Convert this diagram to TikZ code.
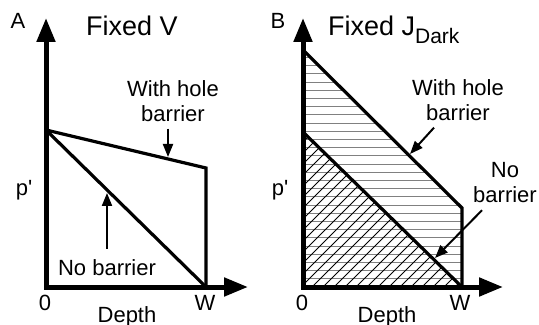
\documentclass[tikz,border=0pt]{standalone}
\usepackage{fontspec}
\setmainfont{Liberation Sans}
\usetikzlibrary{arrows.meta}

\begin{document}
\begin{tikzpicture}[x=0.5pt, y=-0.5pt,
  axis/.style={line width=2.5pt, {Triangle[length=12pt,width=9pt]}-{Triangle[length=12pt,width=9pt]}},
  curve/.style={line width=1.6pt, line join=miter},
  hatch/.style={line width=0.45pt},
  pointer/.style={line width=1pt, -{Triangle[length=6.5pt,width=5pt]}},
  lbl/.style={font=\fontsize{11}{12.5}\selectfont, align=center},
  title/.style={font=\fontsize{13.5}{15}\selectfont}]
\useasboundingbox (0,0) rectangle (539,325);
% A: fixed V
\node[lbl] (panelA) at (18,21) {A};
\node[title, anchor=base] (titleA) at (132,36) {Fixed V};
\draw[curve] (46,130) -- (206,168) -- (206,287);
\draw[curve] (46,130) -- (206,287);
\draw[axis] (46,18) |- (248,287);
\node[lbl] (holeA) at (173,101) {With hole\\barrier};
\node[lbl] (noA) at (107,268) {No barrier};
\coordinate (tipA) at (168,157);
\coordinate (tipB) at (107,193);
\draw[pointer] (holeA.south -| tipA) -- (tipA);
\draw[pointer, shorten <=2pt] (noA.north -| tipB) -- (tipB);
\node[lbl] (pA) at (24,190) {p\textquotesingle};
\node[lbl] (zeroA) at (45,303) {0};
\node[lbl] (wA) at (205,303) {W};
\node[lbl] (depthA) at (127,317) {Depth};
% B: fixed J_Dark
\node[lbl] (panelB) at (278,21) {B};
\node[title, anchor=base west] (titleB) at (321,36) {Fixed J\raisebox{-4pt}{\fontsize{10.5}{12}\selectfont Dark}};
\begin{scope}
\clip (303,50) -- (462,208) -- (462,287) -- (303,287) -- cycle;
\foreach \k in {1,...,28}
  \draw[hatch, gray] (303,{287-8.2*\k}) -- (462,{287-8.2*\k});
\end{scope}
\begin{scope}
\clip (303,132) -- (462,287) -- (303,287) -- cycle;
\foreach \k in {0,...,34}
  \draw[hatch] ({103+11*\k},287) -- ++(200,-200);
\end{scope}
\draw[curve] (303,50) -- (462,208) -- (462,287);
\draw[curve] (303,132) -- (462,287);
\draw[axis] (303,18) |- (503,287);
\node[lbl] (holeB) at (458,100) {With hole\\barrier};
\node[lbl] (noB) at (505,183) {No\\barrier};
\coordinate (tipC) at (410,154);
\coordinate (tipD) at (435,258);
\draw[pointer] ([xshift=-12pt]holeB.south) -- (tipC);
\draw[pointer] ([xshift=-11.5pt]noB.south) -- (tipD);
\node[lbl] (pB) at (280,190) {p\textquotesingle};
\node[lbl] (zeroB) at (302,303) {0};
\node[lbl] (wB) at (460,303) {W};
\node[lbl] (depthB) at (387,317) {Depth};
\end{tikzpicture}
\end{document}
